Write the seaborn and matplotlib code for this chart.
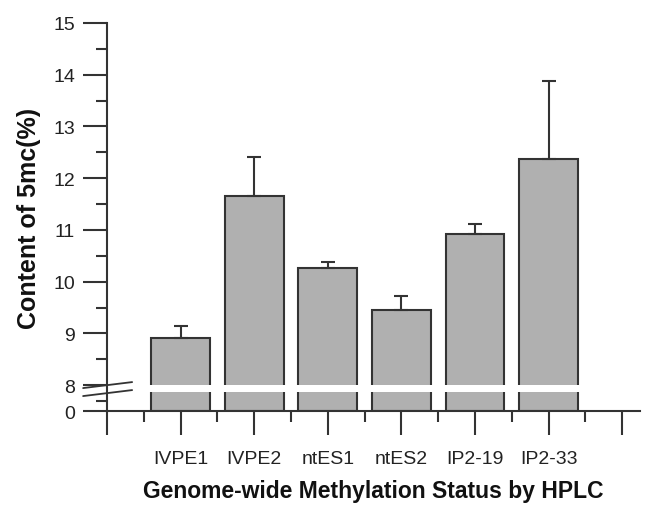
import numpy as np
import pandas as pd
import seaborn as sns
import matplotlib.pyplot as plt

# Dados (conteúdo de 5mC em %)
amostras = ['IVPE1', 'IVPE2', 'ntES1', 'ntES2', 'IP2-19', 'IP2-33']
conteudo = [8.92, 11.66, 10.27, 9.45, 10.93, 12.37]
erro = [0.23, 0.75, 0.11, 0.28, 0.19, 1.51]

df = pd.DataFrame({'Amostra': amostras, 'Conteudo': conteudo, 'Erro': erro})

sns.set_style('ticks')
plt.rcParams['font.family'] = ['Liberation Sans', 'DejaVu Sans']

fig = plt.figure(figsize=(6.49, 5.10), dpi=100)
ax = fig.add_axes([0.165, 0.192, 0.821, 0.761])

cor_linha = '#333333'
sns.barplot(data=df, x='Amostra', y='Conteudo', color='#b0b0b0', width=0.8,
            edgecolor=cor_linha, linewidth=1.5, saturation=1, errorbar=None, ax=ax)

# barras de erro só para cima
centros = [p.get_x() + p.get_width() / 2 for p in ax.patches]
ax.errorbar(centros, df['Conteudo'], yerr=[np.zeros(len(df)), df['Erro']],
            fmt='none', ecolor=cor_linha, elinewidth=1.5, capsize=5, capthick=1.5, zorder=1)

# eixo y quebrado: 0-8 comprimido
def fwd(y):
    y = np.asarray(y, dtype=float)
    return np.where(y < 8, y / 16, y - 7.5)

def inv(d):
    d = np.asarray(d, dtype=float)
    return np.where(d < 0.5, d * 16, d + 7.5)

ax.set_yscale('function', functions=(fwd, inv))
ax.set_ylim(0, 15)
ax.set_xlim(-1, 6.24)

ax.set_yticks([0, 8, 9, 10, 11, 12, 13, 14, 15])
ax.set_yticklabels(['0', '8', '9', '10', '11', '12', '13', '14', '15'])
ax.set_yticks([3, 8.5, 9.5, 10.5, 11.5, 12.5, 13.5, 14.5], minor=True)
ax.yaxis.set_minor_formatter(plt.NullFormatter())

ax.set_xticks(range(-1, 7))
ax.set_xticklabels([''] + amostras + [''])
ax.set_xticks(np.arange(-0.5, 6.0, 1.0), minor=True)

ax.tick_params(axis='both', which='major', direction='out', length=17, width=1.5,
               color=cor_linha, labelsize=14, labelcolor='#222222')
ax.tick_params(axis='both', which='minor', direction='out', length=8, width=1.5, color=cor_linha)
ax.tick_params(axis='x', which='major', pad=11)
ax.tick_params(axis='y', which='major', pad=6)

sns.despine(ax=ax, top=True, right=True)
for s in ['left', 'bottom']:
    ax.spines[s].set_linewidth(1.5)
    ax.spines[s].set_color(cor_linha)

# faixa branca da quebra
ax.axhspan(5.9, 8.0, xmin=0.012, color='white', zorder=5, linewidth=0)
for y0, y1 in [(0.0593, 0.0747), (0.0387, 0.0541)]:
    ax.plot([-0.045, 0.047], [y0, y1], transform=ax.transAxes, color=cor_linha,
            linewidth=1.3, clip_on=False, zorder=6)

ax.set_ylabel('Content of 5mc(%)', fontsize=18, fontweight='bold', labelpad=9, color='#111111')
ax.set_xlabel('Genome-wide Methylation Status by HPLC', fontsize=16.5, fontweight='bold',
              labelpad=9, color='#111111')

fig.savefig('out.png', dpi=100)
